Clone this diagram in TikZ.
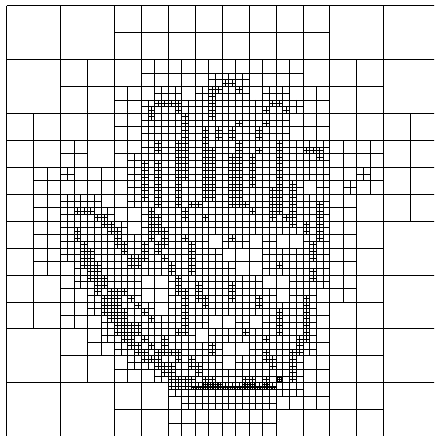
\documentclass[tikz,border=0pt]{standalone}
\usepackage{tikz}

\def\cellA{53.875}
\def\cellB{26.9375}
\def\cellC{13.46875}
\def\cellD{6.734375}
\def\cellE{3.3671875}
\tikzset{gridline/.style={line width=0.95pt, black}}
\newcommand{\splitcell}[3]{\draw[gridline] (6.7+#1*#2+#1/2,5.7+#1*#3) -- ++(0,#1) (6.7+#1*#2,5.7+#1*#3+#1/2) -- ++(#1,0);}

\begin{document}
\begin{tikzpicture}[x=1pt, y=-1pt]
    \useasboundingbox (0,0) rectangle (434,436);
    \clip (0,0) rectangle (434,436);

    \foreach \k in {0,...,8} {
        \draw[gridline] (6.7+\cellA*\k,5.7) -- ++(0,431);
        \draw[gridline] (6.7,5.7+\cellA*\k) -- ++(431,0);
    }

    \foreach \r/\cols in {0/{2,3,4,5},1/{1,...,6},2/{0,...,7},3/{0,...,7},4/{0,...,6},5/{0,...,6},6/{1,...,6},7/{2,...,6}}
        \foreach \c in \cols {\splitcell{\cellA}{\c}{\r}}

    \foreach \r/\cols in {2/{5,...,10},3/{4,...,11},4/{4,...,11},5/{2,4,5,6,7,8,9,10,11,12,13},6/{1,...,13},7/{1,...,12},8/{1,...,12},9/{1,...,12},
        10/{2,...,12},11/{2,...,11},12/{3,...,11},13/{4,...,11},14/{6,...,11},15/{6,...,9}}
        \foreach \c in \cols {\splitcell{\cellB}{\c}{\r}}

    \foreach \r/\cols in {5/{15,16,17},6/{11,12,14,15,16,17,19,20},7/{10,...,21},8/{10,...,20},9/{10,...,20},10/{10,...,23},11/{9,...,23},
        12/{4,9,10,11,12,13,14,15,16,17,18,19,20,21,22,23,26},13/{9,10,11,12,13,14,15,16,17,18,19,20,21,23,25},
        14/{4,5,6,9,10,11,12,13,14,15,16,17,18,19,20,21,22,23},15/{4,5,6,7,10,11,12,13,14,15,16,17,18,19,20,21,22,23},
        16/{4,5,6,7,8,10,11,12,13,14,15,16,17,18,19,20,21,22,23},17/{4,5,6,7,8,9,10,11,12,13,14,16,17,19,22,23},
        18/{4,5,6,7,8,9,10,11,12,13,14,15,19,20,21,22,23},19/{5,6,7,8,9,10,11,12,13,14,15,16,19,20,21,22,23},
        20/{5,6,7,8,9,12,13,14,15,16,17,18,21,22,23},21/{6,7,8,9,12,13,14,15,16,17,18,19,21,22},
        22/{6,7,8,9,10,12,13,14,15,16,17,18,19,20,21,22},23/{7,8,9,10,11,12,13,14,17,19,20,21,22},
        24/{7,8,9,10,11,12,13,15,16,17,18,19,20,21,22},25/{8,9,10,11,12,13,14,15,18,19,20,21,22},
        26/{9,10,11,12,13,14,15,17,18,19,20,21},27/{11,...,21},28/{12,...,21},29/{13,...,19}}
        \foreach \c in \cols {\splitcell{\cellC}{\c}{\r}}

    \foreach \r/\cols in {11/{32,33},12/{30,31,34},13/{30},14/{22,23,24,25,30,39,40},15/{21,25,30,38,41},16/{21,26,30},17/{26,34,38},
        18/{26,29,31,33,37},19/{26,29,31,33,37},20/{22,25,26,29,34,40},21/{22,25,26,29,30,34,37,40,44,45,46},
        22/{25,26,29,30,33,34,36,40,46},23/{20,22,25,26,29,30,33,34,36,40},24/{20,22,25,26,29,30,33,34,36,40},
        25/{20,22,25,26,29,30,33,34,36,40},26/{20,22,25,29,30,33,34,36,40,42},27/{20,22,25,29,30,33,34,39,40,42},
        28/{20,22,25,29,30,33,34,39,40,42},29/{22,25,27,28,33,34,35,39,40,42,46},30/{10,11,12,21,26,36,39,40,42,46},
        31/{13,14,21,22,26,29,39,41,42,46},32/{14,15,21,22,42,44,46},33/{10,15,16,21,22,23,44,46},34/{10,16,21,23,26,33,46},
        35/{11,16,17,20,22,23,27,45},36/{11,12,17,20,22,27,45},37/{11,12,18,19,20,23,27,45},38/{11,12,13,18,19,24,27,40},
        39/{12,13,24,27,45},40/{12,13,14,25,45},41/{13,14,25,28,33},42/{13,15,16,17,25,26,28,33},
        43/{14,15,16,18,26,28,29,33,37,44},44/{14,15,16,19,26,29,37,44},45/{14,15,16,17,20,26,40,44},46/{15,16,17,21,26,40,44},
        47/{16,17,18,19,26,40,44},48/{16,17,18,19,25,26,35,40,44},49/{17,18,20,23,38,43,44},50/{18,19,21,23,30,43},
        51/{19,20,22,23,24,25,30,38,42,43},52/{20,21,22,25,27,38,39,42},53/{22,23,24,27,28,39,42},54/{23,24,28,42},
        55/{24,25,26,27,29,30,35,36,38,40,42},56/{24,...,39}}
        \foreach \c in \cols {\splitcell{\cellD}{\c}{\r}}

    \foreach \r/\cols in {110/{80,81},111/{80,81},112/{58,...,63,70,71,72,73,76,77},113/{55,...,79}}
        \foreach \c in \cols {\splitcell{\cellE}{\c}{\r}}
\end{tikzpicture}
\end{document}
